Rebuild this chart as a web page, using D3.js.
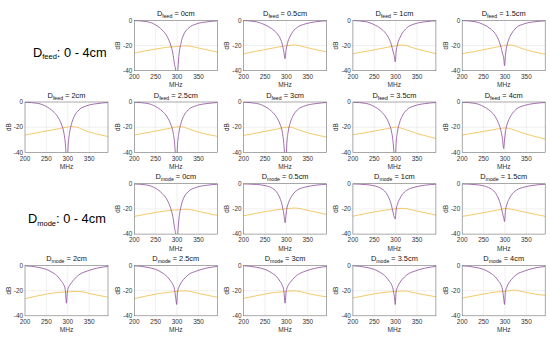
<!DOCTYPE html>
<html>
<head>
<meta charset="utf-8">
<script src="https://cdn.jsdelivr.net/npm/d3@7"></script>
<style>
  body { margin: 0; background: #fff; }
  svg { font-family: "Liberation Sans", Arial, sans-serif; }
</style>
</head>
<body>
<svg id="chart" width="550" height="339"></svg>
<script>
// distances shown in the panel titles
const distances = ["0cm", "0.5cm", "1cm", "1.5cm", "2cm", "2.5cm", "3cm", "3.5cm", "4cm"];

// frequency samples (MHz)
const freqS11 = [200, 230, 250, 265, 277, 285, 290, 294, 297, 299, 301, 304, 309, 315, 326, 345, 368, 395];
const freqS21 = [200, 225, 250, 275, 290, 300, 310, 320, 335, 350, 375, 395];

const xTicks = [200, 250, 300, 350];
const yTicks = [0, -20, -40];

// purple curve (dB), one row per D_feed value
const feedS11 = [
  [-0.2, -1.1, -3.7, -7.7, -13, -19.6, -26, -35, -41, -55, -43, -29, -18.3, -11.7, -6.4, -2.9, -1.3, -0.4],
  [-0.2, -1.2, -3.6, -6.5, -10, -14, -18.5, -25, -30.5, -24, -20.5, -16.5, -12.5, -9, -5.5, -2.8, -1.2, -0.4],
  [-0.2, -1.1, -3.5, -6.5, -10.5, -15, -19.5, -25, -29, -33, -25, -19.5, -14.5, -10.5, -6, -2.8, -1.2, -0.4],
  [-0.2, -1.1, -3.4, -6.5, -10.5, -15.5, -20.5, -26, -30, -36, -28, -21, -15, -10.8, -6, -2.8, -1.2, -0.4],
  [-0.2, -1.1, -3.6, -7.2, -12, -17.5, -23, -32, -45, -48, -34, -25, -17, -11.5, -6.3, -2.9, -1.3, -0.4],
  [-0.2, -1.1, -3.6, -7.2, -12, -17.5, -23, -32, -45, -48, -34, -25, -17, -11.5, -6.3, -2.9, -1.3, -0.4],
  [-0.2, -1.1, -3.6, -7.2, -12, -17.5, -23, -33, -46, -48, -33, -24, -16.5, -11.3, -6.2, -2.9, -1.3, -0.4],
  [-0.2, -1.1, -3.6, -7.2, -12, -17.5, -23, -32, -44, -47, -33, -24, -16.5, -11.3, -6.2, -2.9, -1.3, -0.4],
  [-0.2, -1.1, -3.6, -7, -11.5, -17, -22, -29, -37, -30, -24, -19, -14, -10.2, -5.8, -2.8, -1.2, -0.4]
];

// yellow curve (dB), one row per D_feed value
const feedS21 = [
  [-26, -24.3, -22.8, -21.5, -21, -20.8, -20.5, -20.3, -20.8, -22, -23.8, -25.2],
  [-26.5, -24.8, -23.2, -21.6, -20.7, -20.2, -19.8, -19.6, -20.5, -21.8, -23.8, -25],
  [-26.5, -25, -23.4, -21.8, -20.8, -20.2, -19.6, -19.8, -21.2, -22.8, -25, -26.5],
  [-26.5, -25, -23.3, -21.6, -20.6, -20, -19.6, -20, -21.8, -23.5, -25.6, -27],
  [-26.2, -24.6, -23, -21.4, -20.4, -19.8, -19.6, -19.8, -22, -23.8, -26, -27.5],
  [-26.2, -24.6, -23, -21.4, -20.4, -19.7, -19.7, -20.5, -22.3, -24, -26, -27.3],
  [-26.5, -25, -23.3, -21.7, -20.6, -20, -20, -21, -22.8, -24.5, -26.5, -28],
  [-26, -24.6, -23, -21.5, -20.5, -19.9, -20.5, -21.5, -23.3, -25, -27.3, -29],
  [-26.3, -24.8, -23.3, -21.8, -21, -20.6, -21, -22, -23.8, -25.5, -27.8, -29.5]
];

// purple curve (dB), one row per D_mode value
const modeS11 = [
  [-0.2, -1.1, -3.7, -7.7, -13, -19.6, -26, -35, -41, -55, -43, -29, -18.3, -11.7, -6.4, -2.9, -1.3, -0.4],
  [-0.2, -0.6, -1.5, -3.2, -6.5, -11.5, -17, -24, -31, -25, -20, -16, -12, -8.5, -5, -2.6, -1.2, -0.4],
  [-0.2, -0.7, -1.7, -3.6, -7, -12, -17, -23, -27, -28, -21, -16.5, -12.3, -8.8, -5.2, -2.7, -1.2, -0.4],
  [-0.2, -0.7, -1.7, -3.6, -7, -12, -17, -23, -27, -30, -22, -17, -12.5, -9, -5.3, -2.7, -1.2, -0.4],
  [-0.3, -1.5, -3.2, -5.8, -9, -12.5, -15, -19, -30, -21, -18, -16, -13.5, -11, -7.5, -4.5, -2.2, -0.8],
  [-0.3, -1.5, -3.2, -5.8, -9, -12.5, -15, -19, -26, -31, -21, -17.5, -14, -11.2, -7.5, -4.5, -2.2, -0.8],
  [-0.3, -1.5, -3.2, -5.8, -9, -12.5, -15.5, -20, -30, -22, -18.5, -16, -13.5, -11, -7.5, -4.5, -2.2, -0.8],
  [-0.3, -1.5, -3.2, -5.8, -9, -12.5, -15, -19, -25, -31, -21, -17.5, -14, -11.2, -7.5, -4.5, -2.2, -0.8],
  [-0.3, -1.5, -3.2, -5.8, -9, -12.5, -15, -19, -26, -31, -21, -17.5, -14, -11.2, -7.5, -4.5, -2.2, -0.8]
];

// yellow curve (dB), one row per D_mode value
const modeS21 = [
  [-26, -24.3, -22.8, -21.5, -21, -20.8, -20.5, -20.3, -20.8, -22, -23.8, -25.2],
  [-25.5, -23.8, -22.2, -20.8, -20.2, -19.8, -19.5, -19.3, -20, -21.2, -23, -24.5],
  [-25.8, -24, -22.4, -21, -20.3, -19.9, -19.6, -19.6, -20.5, -21.8, -23.5, -25],
  [-26, -24.5, -23, -21.4, -20.4, -19.6, -20, -20.6, -21.7, -22.8, -24.6, -26],
  [-26.4, -24.5, -22.8, -21.5, -21.2, -21, -20.8, -20.6, -21, -22.3, -24, -25.3],
  [-26.4, -24.5, -22.8, -21.5, -21, -20.6, -20.3, -20.2, -21, -22.3, -24, -25.3],
  [-26.2, -24.4, -22.7, -21.4, -21, -20.6, -20.3, -20.2, -21, -22.3, -24, -25],
  [-25.8, -24.2, -22.6, -21.3, -20.9, -20.6, -20.4, -20.3, -21, -22.2, -23.8, -25],
  [-26, -24.3, -22.7, -21.3, -20.8, -20.5, -20.2, -19.7, -20.3, -21.5, -23, -23.8]
];

const colS11 = "#8a4a9a";
const colS21 = "#efbd45";

const panelW = 83, panelH = 50.4;
const colLeft = [25, 134.3, 243.6, 352.9, 462.2];
const rowTop = [20.3, 102, 183.7, 265.4];

const svg = d3.select("#chart");

const x = d3.scaleLinear().domain([200, 394]).range([0, panelW]);
const y = d3.scaleLinear().domain([-40, 0]).range([panelH, 0]);

const line = d3.line()
  .x(d => x(d[0]))
  .y(d => y(d[1]))
  .curve(d3.curveMonotoneX);

let clipId = 0;

function drawPanel(left, top, sub, dist, s11, s21) {
  const g = svg.append("g").attr("transform", `translate(${left},${top})`);
  const id = "clip" + (clipId++);

  g.append("clipPath").attr("id", id)
    .append("rect").attr("width", panelW).attr("height", panelH);

  // grid
  g.selectAll(".gx").data(xTicks.slice(1)).enter().append("line")
    .attr("x1", d => x(d)).attr("x2", d => x(d))
    .attr("y1", 0).attr("y2", panelH)
    .attr("stroke", "#e6e6e6").attr("stroke-width", 0.6);
  g.selectAll(".gy").data([-20]).enter().append("line")
    .attr("x1", 0).attr("x2", panelW)
    .attr("y1", d => y(d)).attr("y2", d => y(d))
    .attr("stroke", "#e6e6e6").attr("stroke-width", 0.6);

  const plot = g.append("g").attr("clip-path", `url(#${id})`);
  plot.append("path")
    .datum(freqS21.map((f, i) => [f, s21[i]]))
    .attr("d", line).attr("fill", "none")
    .attr("stroke", colS21).attr("stroke-width", 0.8);
  plot.append("path")
    .datum(freqS11.map((f, i) => [f, s11[i]]))
    .attr("d", line).attr("fill", "none")
    .attr("stroke", colS11).attr("stroke-width", 0.8);

  // box
  g.append("rect").attr("width", panelW).attr("height", panelH)
    .attr("fill", "none").attr("stroke", "#707070").attr("stroke-width", 0.6);

  // tick labels
  g.selectAll(".xt").data(xTicks).enter().append("text")
    .attr("x", d => x(d)).attr("y", panelH + 8.3)
    .attr("text-anchor", "middle").attr("font-size", 6.4)
    .attr("fill", "#333").text(d => d);
  g.selectAll(".yt").data(yTicks).enter().append("text")
    .attr("x", -2).attr("y", d => y(d) + 2.2)
    .attr("text-anchor", "end").attr("font-size", 6.4)
    .attr("fill", "#333").text(d => d);

  // axis labels
  g.append("text")
    .attr("transform", `translate(-14.5,${panelH / 2}) rotate(-90)`)
    .attr("text-anchor", "middle").attr("font-size", 6.4)
    .attr("fill", "#333").text("dB");
  g.append("text")
    .attr("x", panelW / 2).attr("y", panelH + 16.5)
    .attr("text-anchor", "middle").attr("font-size", 6.6)
    .attr("fill", "#333").text("MHz");

  // title
  const t = g.append("text")
    .attr("x", panelW / 2).attr("y", -4.5)
    .attr("text-anchor", "middle").attr("font-size", 7.4)
    .attr("fill", "#111");
  t.append("tspan").text("D");
  t.append("tspan").attr("font-size", 5.2).attr("dy", 2).text(sub);
  t.append("tspan").attr("dy", -2).text(" = " + dist);
}

function drawGroup(sub, rowA, rowB, s11, s21) {
  distances.forEach((dist, i) => {
    const r = i < 4 ? rowA : rowB;
    const c = i < 4 ? i + 1 : i - 4;
    drawPanel(colLeft[c], rowTop[r], sub, dist, s11[i], s21[i]);
  });
}

drawGroup("feed", 0, 1, feedS11, feedS21);
drawGroup("mode", 2, 3, modeS11, modeS21);

// big group labels
function bigLabel(xPos, yPos, sub) {
  const t = svg.append("text")
    .attr("x", xPos).attr("y", yPos)
    .attr("font-size", 12.8).attr("fill", "#000");
  t.append("tspan").text("D");
  t.append("tspan").attr("font-size", 7.5).attr("dy", 2.5).text(sub);
  t.append("tspan").attr("dy", -2.5).text(": 0 - 4cm");
}
bigLabel(33, 56.5, "feed");
bigLabel(28, 223, "mode");
</script>
</body>
</html>
